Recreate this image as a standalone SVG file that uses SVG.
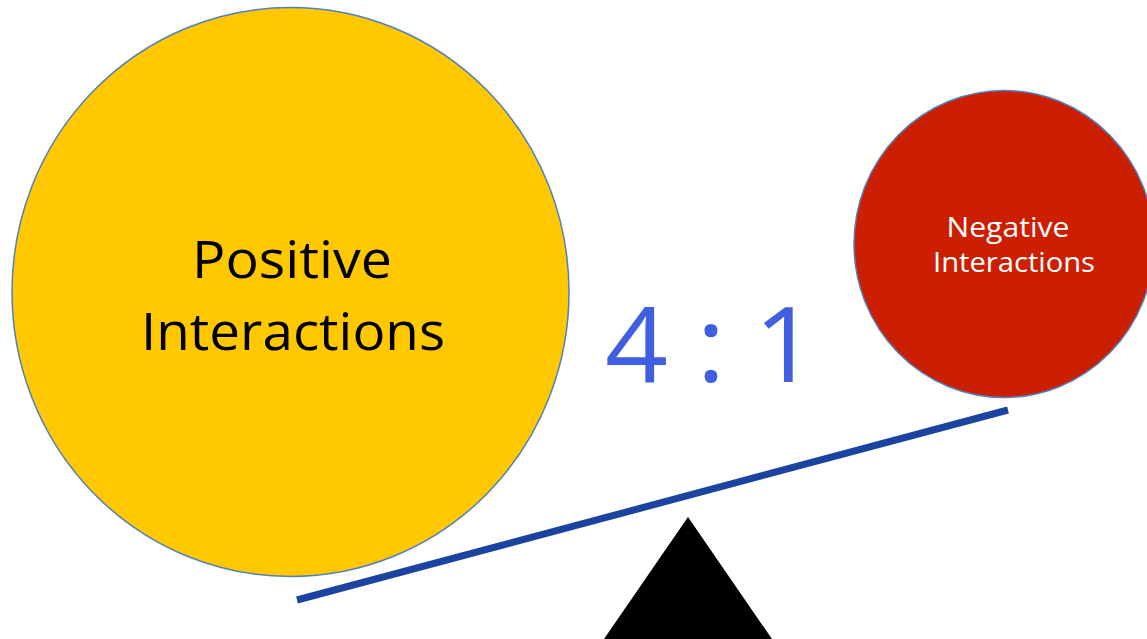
<svg xmlns="http://www.w3.org/2000/svg" width="1147" height="639" viewBox="0 0 1147 639">
<style>
.bub{stroke:#4f81bd;stroke-width:1.5}
.lbl{font-family:"Open Sans","Liberation Sans",sans-serif;text-anchor:middle}
</style>
<rect width="1147" height="639" fill="#ffffff"/>
<g id="positive">
<ellipse class="bub" cx="290.5" cy="292" rx="278.5" ry="284.5" fill="#ffc800"/>
<text class="lbl" x="292" y="278" font-size="51" fill="#000000" textLength="200" lengthAdjust="spacingAndGlyphs">Positive</text>
<text class="lbl" x="293" y="350" font-size="51" fill="#000000" textLength="304" lengthAdjust="spacingAndGlyphs">Interactions</text>
</g>
<g id="negative">
<ellipse class="bub" cx="1004" cy="244" rx="150" ry="153.5" fill="#cc1e00"/>
<text class="lbl" x="1008" y="237" font-size="28" fill="#ffffff" textLength="123" lengthAdjust="spacingAndGlyphs">Negative</text>
<text class="lbl" x="1014" y="272" font-size="28" fill="#ffffff" textLength="162" lengthAdjust="spacingAndGlyphs">Interactions</text>
</g>
<g id="ratio">
<text x="711" y="382" font-family="Open Sans, Liberation Sans, sans-serif" font-size="105" fill="#405fe0" text-anchor="middle" textLength="212" lengthAdjust="spacingAndGlyphs">4 : 1</text>
</g>
<g id="connectors">
<line x1="297" y1="600" x2="1008" y2="410" stroke="#1a44a0" stroke-width="7"/>
</g>
<g id="fulcrum">
<polygon points="688,517 772,639 604,639" fill="#000000"/>
</g>
</svg>
